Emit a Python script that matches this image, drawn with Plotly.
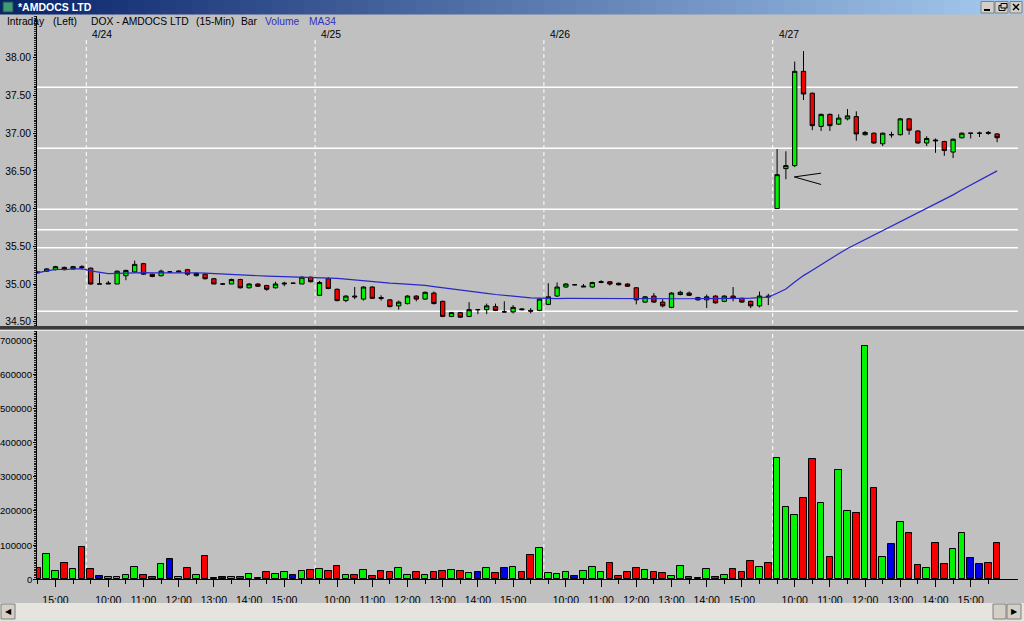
import plotly.graph_objects as go
import pandas as pd

W, H = 1024, 621

# ---------------- data ----------------
day_labels = ["4/24", "4/25", "4/26", "4/27"]
first_day_bars = 6          # last six 15-min bars of 4/23 (14:30 .. 15:45)
bars_per_day = 26           # 9:30 .. 15:45
first_bar_minute = 14 * 60 + 30
session_open_minute = 9 * 60 + 30
bar_minutes = 15

opens = [
    35.16, 35.17, 35.19, 35.22, 35.20, 35.23,
    # 4/24
    35.21, 35.00, 35.00, 35.00, 35.11, 35.16, 35.27, 35.13, 35.11, 35.16, 35.16, 35.19, 35.11,
    35.13, 35.07, 35.00, 35.00, 35.06, 34.95, 35.00, 34.98, 34.95, 35.00, 35.01, 35.00, 35.09,
    # 4/25
    34.85, 35.07, 34.93, 34.78, 34.84, 34.80, 34.96, 34.82, 34.79, 34.71, 34.74, 34.84, 34.80,
    34.88, 34.77, 34.57, 34.62, 34.57, 34.66, 34.66, 34.70, 34.63, 34.63, 34.67, 34.65, 34.65,
    # 4/26
    34.73, 34.84, 34.96, 34.99, 34.96, 34.96, 35.02, 35.03, 35.01, 35.00, 34.95, 34.76, 34.84,
    34.76, 34.69, 34.86, 34.88, 34.82, 34.79, 34.84, 34.77, 34.84, 34.81, 34.77, 34.71, 34.84,
    # 4/27
    36.00, 36.53, 36.57, 37.82, 37.53, 37.09, 37.25, 37.12, 37.19, 37.22, 36.98, 37.00, 36.86,
    36.98, 36.98, 37.19, 37.03, 36.87, 36.91, 36.89, 36.75, 36.94, 37.00, 37.00, 37.01, 36.99,
]
highs = [
    35.17, 35.21, 35.24, 35.23, 35.24, 35.25,
    35.22, 35.14, 35.04, 35.18, 35.19, 35.31, 35.28, 35.14, 35.19, 35.17, 35.18, 35.20, 35.15,
    35.14, 35.08, 35.01, 35.07, 35.07, 35.01, 35.01, 34.99, 35.03, 35.03, 35.02, 35.10, 35.10,
    35.04, 35.09, 34.94, 34.85, 34.96, 34.97, 34.97, 34.85, 34.80, 34.78, 34.85, 34.85, 34.90,
    34.90, 34.78, 34.63, 34.63, 34.76, 34.67, 34.74, 34.74, 34.77, 34.72, 34.68, 34.68, 34.81,
    35.01, 35.02, 35.01, 35.00, 35.00, 35.03, 35.05, 35.04, 35.02, 35.01, 34.96, 34.84, 34.88,
    34.80, 34.89, 34.91, 34.90, 34.83, 34.86, 34.85, 34.85, 34.96, 34.82, 34.78, 34.90, 34.87,
    36.79, 36.76, 37.95, 38.09, 37.54, 37.26, 37.26, 37.25, 37.32, 37.29, 37.03, 37.01, 37.01,
    37.02, 37.20, 37.20, 37.04, 36.96, 36.93, 36.90, 36.93, 37.01, 37.00, 37.02, 37.03, 37.00,
]
lows = [
    35.14, 35.16, 35.18, 35.18, 35.19, 35.19,
    34.99, 35.00, 35.00, 35.00, 35.05, 35.15, 35.12, 35.09, 35.10, 35.15, 35.16, 35.11, 35.10,
    35.06, 35.00, 34.99, 35.00, 34.94, 34.94, 34.96, 34.91, 34.94, 34.97, 35.00, 35.00, 35.02,
    34.84, 34.93, 34.77, 34.76, 34.80, 34.78, 34.80, 34.78, 34.69, 34.66, 34.73, 34.77, 34.79,
    34.73, 34.56, 34.56, 34.55, 34.56, 34.60, 34.60, 34.64, 34.62, 34.61, 34.65, 34.61, 34.64,
    34.72, 34.83, 34.95, 34.98, 34.96, 34.95, 35.01, 34.98, 34.98, 34.96, 34.73, 34.75, 34.75,
    34.69, 34.68, 34.85, 34.84, 34.78, 34.68, 34.74, 34.76, 34.77, 34.75, 34.68, 34.69, 34.72,
    36.00, 36.39, 36.55, 37.44, 37.04, 37.03, 37.03, 37.11, 37.17, 36.90, 36.97, 36.86, 36.83,
    36.94, 36.97, 36.98, 36.86, 36.83, 36.74, 36.70, 36.67, 36.93, 36.93, 36.95, 36.98, 36.88,
]
closes = [
    35.15, 35.20, 35.23, 35.19, 35.23, 35.22,
    35.00, 35.00, 35.01, 35.17, 35.18, 35.26, 35.13, 35.10, 35.17, 35.16, 35.17, 35.13, 35.14,
    35.07, 35.00, 35.00, 35.06, 34.95, 35.00, 34.97, 34.93, 35.00, 35.01, 35.01, 35.09, 35.03,
    35.02, 34.94, 34.78, 34.84, 34.83, 34.96, 34.81, 34.81, 34.70, 34.76, 34.84, 34.80, 34.89,
    34.74, 34.57, 34.62, 34.56, 34.66, 34.66, 34.71, 34.65, 34.63, 34.69, 34.66, 34.64, 34.80,
    34.83, 34.96, 35.00, 34.99, 34.97, 35.02, 35.03, 35.00, 34.99, 34.97, 34.79, 34.83, 34.76,
    34.71, 34.88, 34.89, 34.85, 34.79, 34.83, 34.75, 34.84, 34.81, 34.76, 34.71, 34.84, 34.83,
    36.45, 36.57, 37.82, 37.52, 37.10, 37.25, 37.10, 37.20, 37.23, 36.99, 37.01, 36.87, 37.00,
    36.98, 37.19, 37.04, 36.87, 36.93, 36.90, 36.77, 36.92, 37.00, 37.00, 37.00, 37.00, 36.94,
]
volumes = [
    33000, 75000, 25000, 48000, 29000, 95000,
    29000, 10000, 8000, 8000, 13000, 37000, 13000, 8000, 44000, 59000, 8000, 33000, 13000,
    69000, 5000, 7000, 8000, 8000, 16000, 5000, 20000, 16000, 20000, 13000, 23000, 27000,
    29000, 25000, 38000, 14000, 13000, 27000, 11000, 25000, 22000, 34000, 14000, 20000, 14000,
    20000, 24000, 27000, 25000, 18000, 22000, 34000, 18000, 34000, 37000, 20000, 72000, 91000,
    18000, 16000, 22000, 11000, 25000, 37000, 20000, 49000, 11000, 22000, 34000, 27000, 20000,
    18000, 11000, 39000, 6000, 3000, 29000, 6000, 14000, 29000, 20000, 53000, 37000, 49000,
    356000, 213000, 187000, 239000, 352000, 222000, 64000, 321000, 200000, 195000, 683000, 266000, 64000,
    102000, 167000, 135000, 43000, 34000, 105000, 46000, 88000, 135000, 61000, 46000, 48000, 105000,
]
support_levels = [37.61, 36.80, 35.99, 35.72, 35.48, 34.64]
price_ticks = [34.50, 35.00, 35.50, 36.00, 36.50, 37.00, 37.50, 38.00]
volume_ticks = [0, 100000, 200000, 300000, 400000, 500000, 600000, 700000]
ma_period = 34
# hand-drawn "<" marker on 4/27: tip and two end points (bar index, price)
marker_tip = (85.95, 36.42)
marker_ends = [(89.0, 36.47), (89.0, 36.32)]

# ---------------- helpers ----------------
def px(x):
    return x / W

def py(y):
    return 1 - y / H

n = len(closes)
idx = list(range(n))

def bar_minute(i):
    if i < first_day_bars:
        return first_bar_minute + bar_minutes * i
    return session_open_minute + bar_minutes * ((i - first_day_bars) % bars_per_day)

minutes = [bar_minute(i) for i in idx]
hour_ticks = [i for i in idx if minutes[i] % 60 == 0 and 600 <= minutes[i] <= 900]
hour_text = ["%d:00" % (minutes[i] // 60) for i in hour_ticks]
half_ticks = [i for i in idx if minutes[i] % 30 == 0]
day_starts = [first_day_bars + k * bars_per_day for k in range(len(day_labels))]

ma = pd.Series(closes).rolling(ma_period, min_periods=1).mean().tolist()

GREEN, RED, BLUE = "#00F400", "#F40000", "#0000E8"
vol_colors = [GREEN if c > o else (RED if c < o else BLUE) for o, c in zip(opens, closes)]

BG = "#C0C0C0"
FONT = "Liberation Sans, Arial, sans-serif"

# axis geometry (pixels)
X_L, X_R = 37, 1018
P_TOP, P_BOT = 16, 326
V_TOP, V_BOT = 331, 579.3
px_per_dollar = 75.4
p_ref_y, p_ref = 284, 35.0
p_hi = p_ref + (p_ref_y - P_TOP) / px_per_dollar
p_lo = p_ref - (P_BOT - p_ref_y) / px_per_dollar
px_per_100k = 34.17
v_hi = (V_BOT - V_TOP) / px_per_100k * 100000
bar_px = 8.8
x0 = -(37.9 - X_L) / bar_px
x1 = x0 + (X_R - X_L) / bar_px

fig = go.Figure()
fig.add_trace(go.Candlestick(
    x=idx, open=opens, high=highs, low=lows, close=closes,
    increasing=dict(fillcolor=GREEN, line=dict(color="black", width=1)),
    decreasing=dict(fillcolor=RED, line=dict(color="black", width=1)),
    whiskerwidth=0, xaxis="x", yaxis="y", hoverinfo="skip",
))
fig.add_trace(go.Scatter(
    x=idx, y=ma, mode="lines", line=dict(color="#2828C8", width=1.2),
    xaxis="x", yaxis="y", hoverinfo="skip",
))
fig.add_trace(go.Bar(
    x=idx, y=volumes, width=0.76,
    marker=dict(color=vol_colors, line=dict(color="black", width=1)),
    xaxis="x2", yaxis="y2", hoverinfo="skip",
))

shapes = []
# support / resistance lines
for lv in support_levels:
    shapes.append(dict(type="line", xref="paper", yref="y", x0=px(X_L), x1=px(X_R),
                       y0=lv, y1=lv, line=dict(color="white", width=1.5), layer="below"))
# day dividers
for ds in day_starts:
    shapes.append(dict(type="line", xref="x", yref="paper", x0=ds - 0.5, x1=ds - 0.5,
                       y0=py(40), y1=py(V_BOT), line=dict(color="white", width=1, dash="4px,3px"),
                       layer="below"))
# "<" marker
for ex, ey in marker_ends:
    shapes.append(dict(type="line", xref="x", yref="y", x0=marker_tip[0], y0=marker_tip[1],
                       x1=ex, y1=ey, line=dict(color="black", width=1)))
# panel separator
shapes.append(dict(type="rect", xref="paper", yref="paper", x0=0, x1=1, y0=py(329.5), y1=py(326),
                   fillcolor="#3A3A3A", line=dict(width=0)))
shapes.append(dict(type="line", xref="paper", yref="paper", x0=0, x1=1, y0=py(330.5), y1=py(330.5),
                   line=dict(color="#E8E8E8", width=1)))

# title bar gradient
c_a, c_b = (10, 36, 106), (166, 202, 240)
strips = 64
for k in range(strips):
    t = k / (strips - 1)
    col = "rgb(%d,%d,%d)" % tuple(int(a + (b - a) * t) for a, b in zip(c_a, c_b))
    shapes.append(dict(type="rect", xref="paper", yref="paper",
                       x0=px(k * W / strips), x1=px((k + 1) * W / strips + 0.5),
                       y0=py(14.5), y1=1, fillcolor=col, line=dict(width=0)))
# window icon
shapes.append(dict(type="rect", xref="paper", yref="paper", x0=px(3), x1=px(13), y0=py(12), y1=py(2),
                   fillcolor="#3F9A7A", line=dict(color="#1E4E3E", width=1)))
# window buttons
for bx0, bx1 in [(981, 994), (995, 1008), (1010, 1022)]:
    shapes.append(dict(type="rect", xref="paper", yref="paper", x0=px(bx0), x1=px(bx1),
                       y0=py(13), y1=py(1.5), fillcolor="#D4D0C8", line=dict(color="#808080", width=1)))
shapes.append(dict(type="line", xref="paper", yref="paper", x0=px(984), x1=px(990), y0=py(10), y1=py(10),
                   line=dict(color="black", width=2)))
shapes.append(dict(type="rect", xref="paper", yref="paper", x0=px(999), x1=px(1005), y0=py(10.5), y1=py(5.5),
                   fillcolor="rgba(0,0,0,0)", line=dict(color="black", width=1)))
shapes.append(dict(type="rect", xref="paper", yref="paper", x0=px(1001), x1=px(1007), y0=py(8), y1=py(3.5),
                   fillcolor="#D4D0C8", line=dict(color="black", width=1)))
shapes.append(dict(type="line", xref="paper", yref="paper", x0=px(1013), x1=px(1019), y0=py(4), y1=py(10),
                   line=dict(color="black", width=1.5)))
shapes.append(dict(type="line", xref="paper", yref="paper", x0=px(1013), x1=px(1019), y0=py(10), y1=py(4),
                   line=dict(color="black", width=1.5)))
# scrollbar
shapes.append(dict(type="rect", xref="paper", yref="paper", x0=0, x1=1, y0=0, y1=py(603),
                   fillcolor="#E6E4DE", line=dict(width=0)))
for bx0, bx1 in [(1, 15), (993, 1006), (1007, 1021)]:
    shapes.append(dict(type="rect", xref="paper", yref="paper", x0=px(bx0), x1=px(bx1),
                       y0=py(619), y1=py(604), fillcolor="#D4D0C8", line=dict(color="#808080", width=1)))

annotations = []
def txt(x, y, s, color="black", size=10.3, bold=False, xanchor="left", xref="paper", yref="paper", xshift=0):
    annotations.append(dict(x=x, y=y, xref=xref, yref=yref, text=("<b>%s</b>" % s) if bold else s,
                            showarrow=False, xanchor=xanchor, yanchor="middle", xshift=xshift,
                            font=dict(family=FONT, size=size, color=color)))

txt(px(16), py(7), "*AMDOCS LTD", color="white", size=10.5, bold=True)
txt(px(5), py(21), "Intraday")
txt(px(51), py(21), "(Left)")
txt(px(89), py(21), "DOX - AMDOCS LTD")
txt(px(194), py(21), "(15-Min)")
txt(px(239), py(21), "Bar")
txt(px(263), py(21), "Volume", color="#3030C0")
txt(px(307), py(21), "MA34", color="#3030C0")
for ds, lab in zip(day_starts, day_labels):
    txt(ds - 0.5, py(34), lab, xref="x", xshift=4, size=10.3)
# volume axis labels (right-aligned against the axis)
for v in volume_ticks:
    txt(px(34), v, str(v), yref="y2", xanchor="right", size=9.6)
txt(px(8), py(611.5), "◀", size=8, xanchor="center")
txt(px(1014), py(611.5), "▶", size=8, xanchor="center")

fig.update_layout(
    width=W, height=H, margin=dict(l=0, r=0, t=0, b=0, pad=0, autoexpand=False),
    paper_bgcolor=BG, plot_bgcolor=BG, showlegend=False, bargap=0,
    shapes=shapes, annotations=annotations,
    xaxis=dict(domain=[px(X_L), px(X_R)], range=[x0, x1], anchor="y", showticklabels=False,
               showgrid=False, zeroline=False, ticks="", rangeslider=dict(visible=False), fixedrange=True,
               automargin=False),
    yaxis=dict(domain=[py(P_BOT), py(P_TOP)], range=[p_lo, p_hi], anchor="x", automargin=False,
               tickvals=price_ticks, ticktext=["%.2f" % v for v in price_ticks],
               ticks="outside", ticklen=3, tickcolor="black", showgrid=False, zeroline=False,
               showline=True, linecolor="black", linewidth=1,
               tickfont=dict(family=FONT, size=10.3, color="black"),
               minor=dict(dtick=0.025, tick0=0, ticks="outside", ticklen=2, tickcolor="#202020", showgrid=False)),
    xaxis2=dict(domain=[px(X_L), px(X_R)], range=[x0, x1], anchor="y2", automargin=False,
                tickmode="array", tickvals=hour_ticks, ticktext=hour_text,
                ticks="outside", ticklen=7, tickcolor="black", showgrid=False, zeroline=False,
                showline=True, linecolor="black", linewidth=1, ticklabelstandoff=4,
                tickfont=dict(family=FONT, size=10.5, color="black"),
                minor=dict(tickmode="array", tickvals=half_ticks, ticks="outside", ticklen=4,
                           tickcolor="black", showgrid=False)),
    yaxis2=dict(domain=[py(V_BOT), py(V_TOP)], range=[0, v_hi], anchor="x2", automargin=False,
                tickvals=volume_ticks, showticklabels=False,
                ticks="outside", ticklen=3, tickcolor="black", showgrid=False, zeroline=False,
                showline=True, linecolor="black", linewidth=1,
                minor=dict(dtick=5000, tick0=0, ticks="outside", ticklen=2, tickcolor="#202020", showgrid=False)),
)

fig.write_html("out.html", config={"displayModeBar": False},
               post_script="document.body.style.margin='0px';document.body.style.padding='0px';")
